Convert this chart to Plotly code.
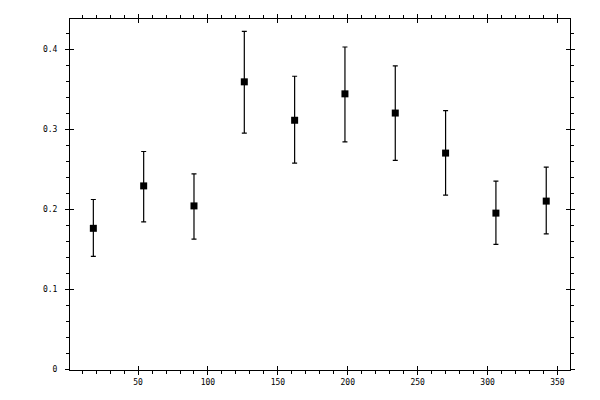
import plotly.graph_objects as go

# bin centres (degrees) and measured fraction with error-bar ends
angle = [18, 54, 90, 126, 162, 198, 234, 270, 306, 342]
frac = [0.176, 0.229, 0.204, 0.359, 0.311, 0.344, 0.320, 0.270, 0.195, 0.210]
err_hi = [0.212, 0.272, 0.244, 0.422, 0.366, 0.4025, 0.379, 0.323, 0.235, 0.2525]
err_lo = [0.141, 0.184, 0.1625, 0.295, 0.2575, 0.284, 0.261, 0.2175, 0.156, 0.169]

plus = [h - v for h, v in zip(err_hi, frac)]
minus = [v - l for v, l in zip(frac, err_lo)]

fnt = dict(family='DejaVu Sans Mono', size=8, color='black')

fig = go.Figure()
fig.add_trace(go.Scatter(
    x=angle, y=frac, mode='markers',
    marker=dict(symbol='square', size=7, color='black'),
    error_y=dict(type='data', symmetric=False, array=plus, arrayminus=minus,
                 color='black', thickness=1.2, width=2.5),
    showlegend=False,
))
# dummy trace so the overlay axes exist
fig.add_trace(go.Scatter(x=[None], y=[None], xaxis='x2', yaxis='y2',
                         showlegend=False, hoverinfo='skip'))

xr = [1.3, 359]
yr = [-0.001, 0.4375]

fig.update_layout(
    width=600, height=400,
    margin=dict(l=70, r=30, t=19, b=30),
    paper_bgcolor='white', plot_bgcolor='white',
    font=fnt,
    xaxis=dict(range=xr, tickvals=[50, 100, 150, 200, 250, 300, 350],
               ticks='outside', ticklen=4, tickwidth=1, tickcolor='black',
               minor=dict(dtick=10, tick0=0, ticks='outside', ticklen=3,
                          tickwidth=1, tickcolor='black'),
               showline=True, linecolor='black', linewidth=1, mirror='ticks',
               showgrid=False, zeroline=False, tickfont=fnt),
    yaxis=dict(range=yr, tickvals=[0, 0.1, 0.2, 0.3, 0.4],
               ticktext=['0', '0.1', '0.2', '0.3', '0.4'],
               ticks='outside', ticklen=4, tickwidth=1, tickcolor='black',
               minor=dict(dtick=0.02, tick0=0, ticks='outside', ticklen=3,
                          tickwidth=1, tickcolor='black'),
               showline=True, linecolor='black', linewidth=1, mirror='ticks',
               showgrid=False, zeroline=False, tickfont=fnt, ticklabelstandoff=6),
    xaxis2=dict(range=xr, overlaying='x', tickvals=[50, 100, 150, 200, 250, 300, 350],
                ticks='inside', ticklen=4, tickwidth=1, tickcolor='black',
                showticklabels=False, mirror='ticks', showline=False,
                showgrid=False, zeroline=False),
    yaxis2=dict(range=yr, overlaying='y', tickvals=[0, 0.1, 0.2, 0.3, 0.4],
                ticks='inside', ticklen=4, tickwidth=1, tickcolor='black',
                showticklabels=False, mirror='ticks', showline=False,
                showgrid=False, zeroline=False),
)

fig.write_html("out.html", config={'displayModeBar': False},
               post_script="document.body.style.margin='0';")
